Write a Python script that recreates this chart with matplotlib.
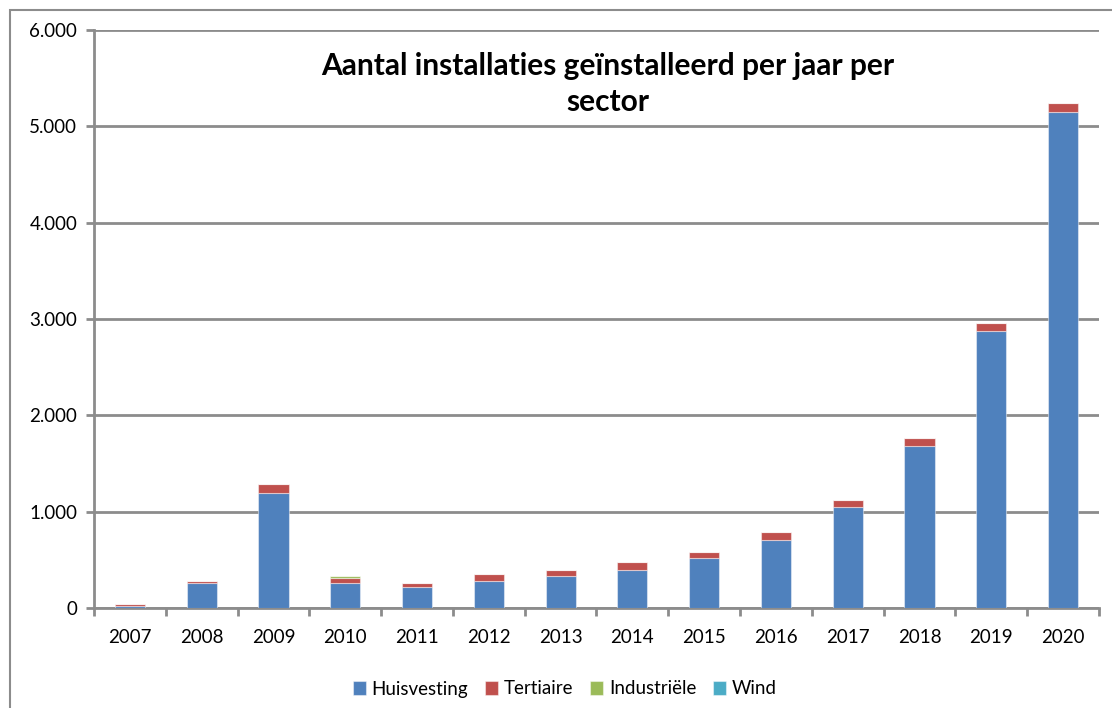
import matplotlib
matplotlib.use("Agg")
import matplotlib.pyplot as plt
import numpy as np
from matplotlib.patches import Rectangle
from matplotlib.ticker import FuncFormatter, MultipleLocator

plt.rcParams["font.family"] = ["Lato", "DejaVu Sans"]

years = ["2007", "2008", "2009", "2010", "2011", "2012", "2013",
         "2014", "2015", "2016", "2017", "2018", "2019", "2020"]
huisvesting = [20, 263, 1190, 263, 221, 277, 329, 394, 516, 703, 1052, 1685, 2879, 5146]
tertiaire = [18, 17, 97, 52, 39, 76, 65, 84, 69, 83, 69, 83, 80, 93]
industriele = [0, 0, 0, 20, 0, 0, 0, 0, 0, 0, 0, 0, 0, 0]
wind = [0, 0, 0, 0, 0, 0, 0, 0, 0, 0, 0, 0, 0, 0]

series = [
    ("Huisvesting", huisvesting, "#4F81BD"),
    ("Tertiaire", tertiaire, "#C0504D"),
    ("Industriële", industriele, "#9BBB59"),
    ("Wind", wind, "#4BACC6"),
]

GRID = "#8c8c8c"

fig = plt.figure(figsize=(11.12, 7.08), dpi=100)
fig.patch.set_facecolor("white")

# outer chart frame
fig.patches.append(Rectangle((10 / 1112, -0.05), 1.2, (708 - 10) / 708 + 0.05,
                             transform=fig.transFigure, fill=False,
                             edgecolor=GRID, linewidth=1.5))

ax = fig.add_axes([94 / 1112, 100 / 708, 1005 / 1112, 578 / 708])
x = np.arange(len(years))
bottom = np.zeros(len(years))
handles = []
for name, vals, color in series:
    vals = np.array(vals, dtype=float)
    bars = ax.bar(x, vals, width=0.42, bottom=bottom, color=color,
                  edgecolor=(1, 1, 1, 0.45), linewidth=0.8, label=name, zorder=3)
    handles.append(bars)
    bottom += vals

ax.set_xlim(-0.5, len(years) - 0.5)
ax.set_ylim(0, 6000)
ax.yaxis.set_major_locator(MultipleLocator(1000))
ax.yaxis.set_major_formatter(FuncFormatter(lambda v, _: f"{int(v):,}".replace(",", ".")))
ax.grid(axis="y", color=GRID, linewidth=2, zorder=0)

ax.set_xticks(x)
ax.set_xticklabels(years)
ax.set_xticks(np.arange(-0.5, len(years)), minor=True)
ax.tick_params(axis="x", which="major", length=0, pad=15, labelsize=13.5)
ax.tick_params(axis="x", which="minor", length=6, width=2, color=GRID)
ax.tick_params(axis="y", length=6, width=2, color=GRID, labelsize=13.5, pad=6)

for side in ("top", "right"):
    ax.spines[side].set_visible(False)
for side in ("left", "bottom"):
    ax.spines[side].set_color(GRID)
    ax.spines[side].set_linewidth(2)

fig.text(608 / 1112, 1 - 66 / 708, "Aantal installaties geïnstalleerd per jaar per",
         ha="center", va="center", fontsize=21.5, fontweight="bold")
fig.text(608 / 1112, 1 - 102 / 708, "sector",
         ha="center", va="center", fontsize=21.5, fontweight="bold")

fig.legend(handles=handles, labels=[s[0] for s in series], loc="center",
           bbox_to_anchor=(565 / 1112, 1 - 689 / 708), ncol=4, frameon=False,
           fontsize=13.5, handlelength=0.7, handleheight=0.7,
           handletextpad=0.3, columnspacing=0.9)

fig.savefig("out.png", dpi=100)
